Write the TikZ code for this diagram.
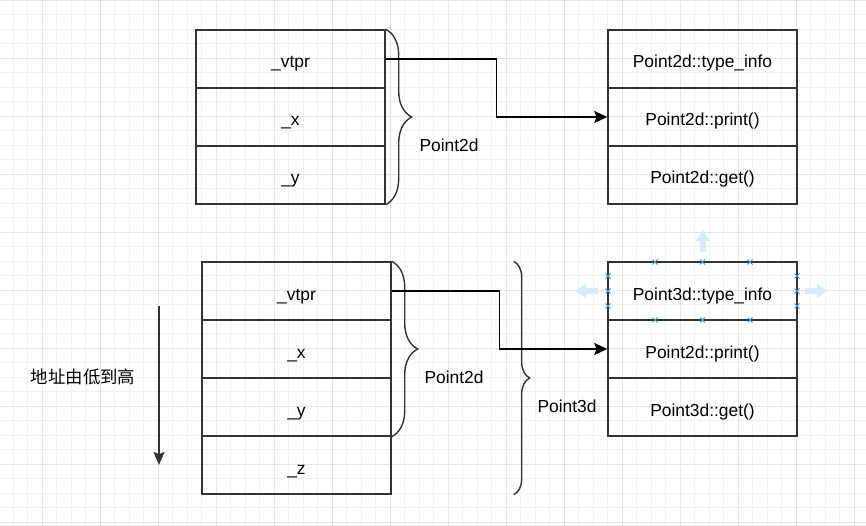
\documentclass[tikz,border=0pt]{standalone}
\usepackage{fontspec}
\setmainfont{Liberation Sans}
\newfontfamily\cjk{Noto Sans CJK SC}
\usetikzlibrary{arrows.meta,decorations.pathreplacing}
\definecolor{hint}{HTML}{D4ECFC}
\definecolor{handle}{HTML}{2A9DF4}

\begin{document}
\begin{tikzpicture}[x=1pt,y=-1pt,font=\fontsize{17.4}{20}\selectfont,
cell/.style={draw=black!80,line width=1.4pt,minimum width=189pt,minimum height=58pt,inner sep=0pt,text height=18pt,text depth=0pt},
link/.style={line width=1.4pt,-{Stealth[length=13pt,width=12pt,inset=2pt]}},
brc/.style={draw=black!80,line width=1.4pt,decorate,decoration={brace,amplitude=#1}}]
\useasboundingbox (0,0) rectangle (866,526);
\foreach \i in {0,...,59} \draw[black!5,line width=0.9pt] (13.3+14.5*\i,0) -- (13.3+14.5*\i,526);
\foreach \j in {0,...,36} \draw[black!5,line width=0.9pt] (0,14.5*\j) -- (866,14.5*\j);
\foreach \i in {0,...,14} \draw[black!10,line width=0.9pt] (42.3+58*\i,0) -- (42.3+58*\i,526);
\foreach \j in {0,...,9} \draw[black!10,line width=0.9pt] (0,58*\j) -- (866,58*\j);
\node[cell] (a1) at (290.5,59) {\_vtpr};
\node[cell] (a2) at (290.5,117) {\_x};
\node[cell] (a3) at (290.5,175) {\_y};
\node[cell] (p1) at (702.5,59) {Point2d::type\_info};
\node[cell] (p2) at (702.5,117) {Point2d::print()};
\node[cell] (p3) at (702.5,175) {Point2d::get()};
\node[cell] (b1) at (296.5,291) {\_vtpr};
\node[cell] (b2) at (296.5,349) {\_x};
\node[cell] (b3) at (296.5,407) {\_y};
\node[cell] (b4) at (296.5,465) {\_z};
\node[cell] (q1) at (702.5,291) {Point3d::type\_info};
\node[cell] (q2) at (702.5,349) {Point2d::print()};
\node[cell] (q3) at (702.5,407) {Point3d::get()};
\draw[brc=26pt] (a1.north east) -- (a3.south east);
\draw[brc=26pt] (b1.north east) -- (b3.south east);
\draw[brc=16pt] ([xshift=122pt]b1.north east) -- ([xshift=122pt]b4.south east);
\node (t1) at (449,145) {Point2d};
\node (t2) at (454,377) {Point2d};
\node (t3) at (567,406) {Point3d};
\draw[link] (a1.east) -- ++(111,0) |- (p2.west);
\draw[link] (b1.east) -- ++(108,0) |- (q2.west);
\coordinate (hi) at (159,306);
\coordinate (lo) at (159,465);
\draw[black!80,line width=1.6pt,-{Stealth[length=13pt,width=11pt,inset=2pt]}] (hi) -- (lo);
\node (addr) at (83,377) {\cjk 地址由低到高};
\fill[hint] (703,230) -- (710,241) -- (706,241) -- (706,252) -- (700,252) -- (700,241) -- (696,241) -- cycle;
\fill[hint] (575,291) -- (586,284) -- (586,288) -- (598,288) -- (598,294) -- (586,294) -- (586,298) -- cycle;
\fill[hint] (828,291) -- (817,284) -- (817,288) -- (805,288) -- (805,294) -- (817,294) -- (817,298) -- cycle;
\foreach \x/\y in {655/262,702.5/262,750/262,655/320,702.5/320,750/320,608/276,608/291,608/306,797/276,797/291,797/306}
  \draw[handle,line width=0.8pt] (\x-2.5,\y-2.5) -- (\x+2.5,\y+2.5) (\x-2.5,\y+2.5) -- (\x+2.5,\y-2.5);
\end{tikzpicture}
\end{document}
